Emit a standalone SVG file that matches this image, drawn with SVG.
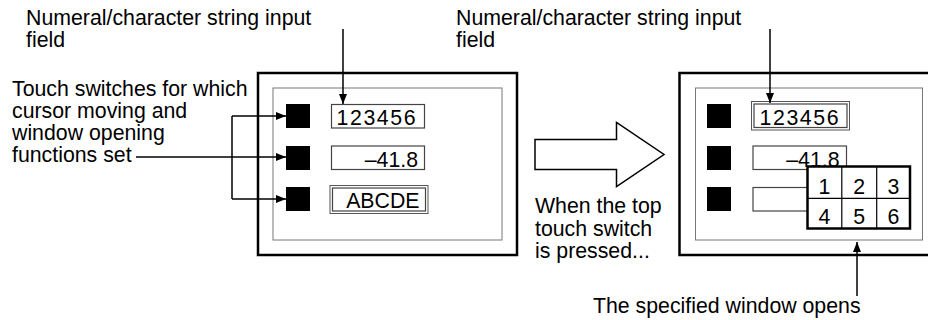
<svg xmlns="http://www.w3.org/2000/svg" width="928" height="320" viewBox="0 0 928 320">
<style>
text{font-family:"Liberation Sans",Arial,sans-serif;font-size:21.3px;fill:#000}
.outer{fill:none;stroke:#000;stroke-width:2.5}
.inner{fill:none;stroke:#777;stroke-width:1}
.sw{fill:#000}
.fld{fill:#fff;stroke:#444;stroke-width:1.2}
.fld2{fill:none;stroke:#555;stroke-width:1}
.digits{letter-spacing:1.6px}
.con{fill:none;stroke:#000;stroke-width:1.5}
.pad{fill:#fff;stroke:#000;stroke-width:2.5}
.padl{stroke:#000;stroke-width:1.2}
.big{fill:#fff;stroke:#000;stroke-width:1.5}
</style>
<defs>
<marker id="ah" viewBox="0 0 10 10" refX="10" refY="5" markerWidth="10" markerHeight="10" markerUnits="userSpaceOnUse" orient="auto">
<path d="M0,1 L10,5 L0,9 Z" fill="#000"/>
</marker>
</defs>

<g id="label-top-left">
<text x="26" y="25">Numeral/character string input</text>
<text x="26" y="47">field</text>
</g>
<g id="label-switches">
<text x="12" y="96">Touch switches for which</text>
<text x="12" y="118">cursor moving and</text>
<text x="12" y="140">window opening</text>
<text x="12" y="162">functions set</text>
</g>

<g id="panel-left">
<rect class="outer" x="258" y="73" width="259" height="182"/>
<rect class="inner" x="273" y="88" width="229" height="152"/>
<rect class="sw" x="286" y="104" width="24" height="24"/>
<rect class="sw" x="286" y="146" width="24" height="24"/>
<rect class="sw" x="286" y="187" width="24" height="24"/>
<rect class="fld" x="331.5" y="104.5" width="93" height="23.5"/>
<text class="digits" x="336.5" y="125">123456</text>
<rect class="fld" x="331.5" y="146" width="93" height="23.5"/>
<text x="418" y="166.5" text-anchor="end">–41.8</text>
<rect class="fld2" x="330" y="185.5" width="98" height="28"/>
<rect class="fld" x="332.5" y="188" width="93" height="23"/>
<text x="419.5" y="207.5" text-anchor="end">ABCDE</text>
</g>

<g id="big-arrow">
<path class="big" d="M535,139.5 L616.5,139.5 L616.5,122.5 L664,154.5 L616.5,186.5 L616.5,169.5 L535,169.5 Z"/>
</g>
<g id="label-pressed">
<text x="535" y="213">When the top</text>
<text x="535" y="236">touch switch</text>
<text x="535" y="258">is pressed...</text>
</g>

<g id="label-top-right">
<text x="456" y="25">Numeral/character string input</text>
<text x="456" y="47">field</text>
</g>

<g id="panel-right">
<rect class="outer" x="679.5" y="73" width="260" height="182"/>
<rect class="inner" x="695.5" y="88" width="227" height="152"/>
<rect class="sw" x="707" y="104" width="24" height="24"/>
<rect class="sw" x="707" y="146" width="24" height="24"/>
<rect class="sw" x="707" y="187" width="24" height="24"/>
<rect class="fld2" x="751.5" y="101.5" width="98" height="28.5"/>
<rect class="fld" x="754" y="104" width="93" height="23.5"/>
<text class="digits" x="759.5" y="125">123456</text>
<rect class="fld" x="753" y="146" width="93.5" height="23.5"/>
<text x="839.5" y="166.5" text-anchor="end">–41.8</text>
<rect class="fld" x="753" y="187.5" width="93.5" height="23.5"/>
</g>

<g id="keypad">
<rect class="pad" x="807.5" y="166.5" width="102.5" height="62"/>
<line class="padl" x1="841.8" y1="166.5" x2="841.8" y2="228.5"/>
<line class="padl" x1="876.7" y1="166.5" x2="876.7" y2="228.5"/>
<line class="padl" x1="807.5" y1="198.3" x2="910" y2="198.3"/>
<text x="824.5" y="193.5" text-anchor="middle">1</text>
<text x="859.3" y="193.5" text-anchor="middle">2</text>
<text x="893.5" y="193.5" text-anchor="middle">3</text>
<text x="824.5" y="223.5" text-anchor="middle">4</text>
<text x="859.3" y="223.5" text-anchor="middle">5</text>
<text x="893.5" y="223.5" text-anchor="middle">6</text>
</g>

<g id="label-window">
<text x="593" y="313">The specified window opens</text>
</g>

<g id="connectors">
<line class="con" x1="343" y1="29" x2="343" y2="104" marker-end="url(#ah)"/>
<line class="con" x1="770" y1="29" x2="770" y2="103" marker-end="url(#ah)"/>
<line class="con" x1="857" y1="296" x2="857" y2="242" marker-end="url(#ah)"/>
<polyline class="con" points="232,116 232,199"/>
<line class="con" x1="232" y1="116" x2="286" y2="116" marker-end="url(#ah)"/>
<line class="con" x1="136" y1="157" x2="286" y2="157" marker-end="url(#ah)"/>
<line class="con" x1="232" y1="199" x2="286" y2="199" marker-end="url(#ah)"/>
</g>
</svg>
